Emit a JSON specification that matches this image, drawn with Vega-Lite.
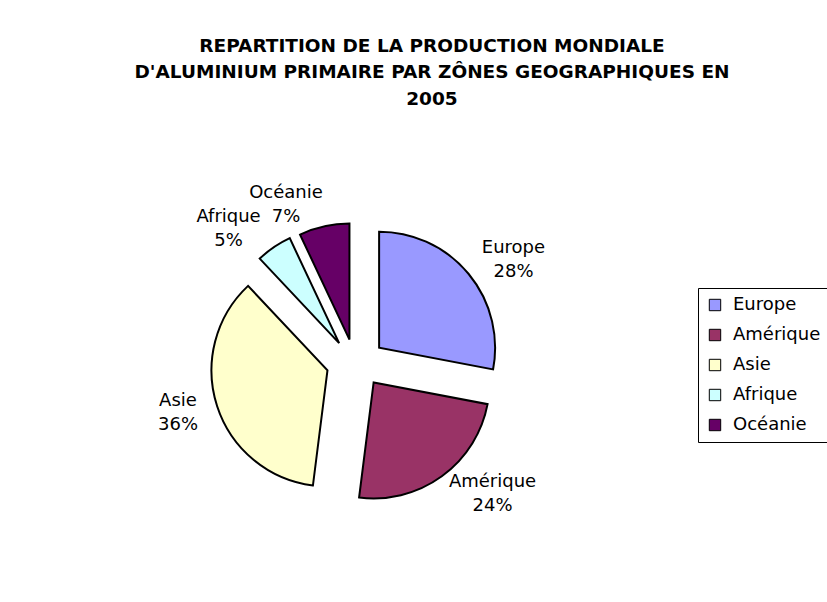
{
  "$schema": "https://vega.github.io/schema/vega-lite/v6.json",
  "width": 640,
  "height": 506,
  "autosize": {"type": "none"},
  "padding": {"left": 36, "top": 110, "right": 151, "bottom": 0},
  "background": "white",
  "config": {"view": {"stroke": null}},
  "title": {
    "text": ["REPARTITION DE LA PRODUCTION MONDIALE", "D'ALUMINIUM PRIMAIRE PAR ZÔNES GEOGRAPHIQUES EN", "2005"],
    "font": "DejaVu Sans",
    "fontSize": 18.5,
    "fontWeight": "bold",
    "lineHeight": 26.5,
    "anchor": "middle",
    "dx": 76,
    "offset": 2,
    "color": "black"
  },
  "data": {
    "values": [
      {"ordre": 1, "zone": "Europe", "pct": 28},
      {"ordre": 2, "zone": "Amérique", "pct": 24},
      {"ordre": 3, "zone": "Asie", "pct": 36},
      {"ordre": 4, "zone": "Afrique", "pct": 5},
      {"ordre": 5, "zone": "Océanie", "pct": 7}
    ]
  },
  "transform": [
    {"stack": "pct", "groupby": [], "sort": [{"field": "ordre", "order": "ascending"}], "as": ["v0", "v1"]},
    {"calculate": "(datum.v0 + datum.v1) / 200 * 2 * PI", "as": "mid"},
    {"calculate": "30 * sin(datum.mid)", "as": "dx"},
    {"calculate": "-24 * cos(datum.mid)", "as": "dy"},
    {"calculate": "167 * sin(datum.mid) + (sin(datum.mid) >= 0 ? 1 : -1) * 4.8 * length(datum.zone)", "as": "lx"},
    {"calculate": "-162 * cos(datum.mid)", "as": "ly"},
    {"calculate": "datum.zone + '\\n' + datum.pct + '%'", "as": "lab"}
  ],
  "layer": [
    {
      "mark": {"type": "arc", "radius": 116, "stroke": "black", "strokeWidth": 2},
      "encoding": {
        "theta": {"field": "v0", "type": "quantitative", "scale": {"domain": [0, 100]}, "stack": null},
        "theta2": {"field": "v1"},
        "color": {
          "field": "zone",
          "type": "nominal",
          "scale": {
            "domain": ["Europe", "Amérique", "Asie", "Afrique", "Océanie"],
            "range": ["#9999FF", "#993366", "#FFFFCC", "#CCFFFF", "#660066"]
          },
          "legend": {
            "title": null,
            "orient": "none",
            "legendX": 662,
            "legendY": 178,
            "symbolType": "square",
            "symbolSize": 130,
            "symbolStrokeColor": "black",
            "symbolStrokeWidth": 1,
            "labelFont": "DejaVu Sans",
            "labelFontSize": 18,
            "labelColor": "black",
            "strokeColor": "black",
            "fillColor": "white",
            "padding": 8,
            "rowPadding": 12,
            "labelOffset": 9
          }
        },
        "xOffset": {"field": "dx", "type": "quantitative", "scale": null},
        "yOffset": {"field": "dy", "type": "quantitative", "scale": null}
      }
    },
    {
      "mark": {"type": "text", "font": "DejaVu Sans", "fontSize": 18, "lineBreak": "\n", "lineHeight": 24, "align": "center", "baseline": "middle", "dy": -12, "color": "black"},
      "encoding": {
        "text": {"field": "lab", "type": "nominal"},
        "xOffset": {"field": "lx", "type": "quantitative", "scale": null},
        "yOffset": {"field": "ly", "type": "quantitative", "scale": null}
      }
    }
  ]
}
